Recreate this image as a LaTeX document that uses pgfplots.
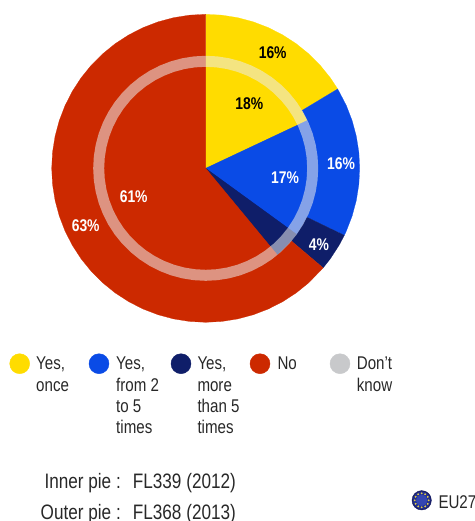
\documentclass[border=0pt]{standalone}
\usepackage{fontspec}
\setmainfont[FakeStretch=0.82]{Liberation Sans}
\usepackage{pgfplots}
\pgfplotsset{compat=1.18}
\usepgfplotslibrary{polar}
\usetikzlibrary{plotmarks}

\definecolor{eyellow}{RGB}{255,220,0}
\definecolor{eblue}{RGB}{10,75,230}
\definecolor{enavy}{RGB}{15,30,105}
\definecolor{ered}{RGB}{204,41,0}
\definecolor{egrey}{RGB}{200,201,203}
\definecolor{etext}{RGB}{40,40,40}
\definecolor{ering}{RGB}{235,235,235}

\tikzset{
	pct/.style={font=\fontsize{17}{18}\selectfont\bfseries, anchor=center},
	leg/.style={font=\fontsize{18.5}{21.3}\selectfont, anchor=north west, text=etext,
		align=left, inner sep=0pt},
	foot/.style={font=\fontsize{21}{24}\selectfont, anchor=base, inner sep=0pt, text=etext},
}

\begin{document}
\begin{tikzpicture}
\clip (0,0) rectangle (475bp,521bp);

% pies: angle (deg), radius in px. outer = 16/16/4/63, inner = 18/17/4/61
\begin{polaraxis}[
	at={(205.7bp,352.7bp)}, anchor=center,
	scale only axis, width=308bp, height=308bp,
	hide axis, clip=false,
	xmin=0, xmax=360, ymin=0, ymax=154,
	]
% outer
\addplot[fill=eyellow, draw=eyellow, line width=0.2pt] coordinates {
	(0,0) (90,154) (84,154) (78,154) (72,154) (66,154) (60,154) (54,154) (48,154) (42,154) (36,154) (31,154)
} --cycle;
\addplot[fill=eblue, draw=eblue, line width=0.2pt] coordinates {
	(0,0) (31,154) (24,154) (18,154) (12,154) (6,154) (0,154) (-6,154) (-12,154) (-18,154) (-24,154) (-25.8,154)
} --cycle;
\addplot[fill=enavy, draw=enavy, line width=0.2pt] coordinates {
	(0,0) (-25.8,154) (-30,154) (-36,154) (-40.3,154)
} --cycle;
\addplot[fill=ered, draw=ered, line width=0.2pt] coordinates {
	(0,0) (-40.3,154) (-48,154) (-54,154) (-60,154) (-66,154) (-72,154) (-78,154) (-84,154) (-90,154)
	(-96,154) (-102,154) (-108,154) (-114,154) (-120,154) (-126,154) (-132,154) (-138,154) (-144,154)
	(-150,154) (-156,154) (-162,154) (-168,154) (-174,154) (-180,154) (-186,154) (-192,154) (-198,154)
	(-204,154) (-210,154) (-216,154) (-222,154) (-228,154) (-234,154) (-240,154) (-246,154) (-252,154)
	(-258,154) (-264,154) (-270,154)
} --cycle;
% inner
\addplot[fill=eyellow, draw=eyellow, line width=0.2pt] coordinates {
	(0,0) (90,112) (84,112) (78,112) (72,112) (66,112) (60,112) (54,112) (48,112) (42,112) (36,112) (30,112) (25.2,112)
} --cycle;
\addplot[fill=eblue, draw=eblue, line width=0.2pt] coordinates {
	(0,0) (25.2,112) (18,112) (12,112) (6,112) (0,112) (-6,112) (-12,112) (-18,112) (-24,112) (-30,112) (-36,112)
} --cycle;
\addplot[fill=enavy, draw=enavy, line width=0.2pt] coordinates {
	(0,0) (-36,112) (-42,112) (-48,112) (-50.4,112)
} --cycle;
\addplot[fill=ered, draw=ered, line width=0.2pt] coordinates {
	(0,0) (-50.4,112) (-54,112) (-60,112) (-66,112) (-72,112) (-78,112) (-84,112) (-90,112)
	(-96,112) (-102,112) (-108,112) (-114,112) (-120,112) (-126,112) (-132,112) (-138,112) (-144,112)
	(-150,112) (-156,112) (-162,112) (-168,112) (-174,112) (-180,112) (-186,112) (-192,112) (-198,112)
	(-204,112) (-210,112) (-216,112) (-222,112) (-228,112) (-234,112) (-240,112) (-246,112) (-252,112)
	(-258,112) (-264,112) (-270,112)
} --cycle;
% pale ring between the two pies
\addplot[draw=ering, draw opacity=0.55, line width=11bp] coordinates {
	(90,107) (84,107) (78,107) (72,107) (66,107) (60,107) (54,107) (48,107) (42,107)
	(36,107) (30,107) (24,107) (18,107) (12,107) (6,107) (0,107) (-6,107) (-12,107)
	(-18,107) (-24,107) (-30,107) (-36,107) (-42,107) (-48,107) (-54,107) (-60,107)
	(-66,107) (-72,107) (-78,107) (-84,107) (-90,107) (-96,107) (-102,107) (-108,107)
	(-114,107) (-120,107) (-126,107) (-132,107) (-138,107) (-144,107) (-150,107) (-156,107)
	(-162,107) (-168,107) (-174,107) (-180,107) (-186,107) (-192,107) (-198,107) (-204,107)
	(-210,107) (-216,107) (-222,107) (-228,107) (-234,107) (-240,107) (-246,107) (-252,107)
	(-258,107) (-264,107)
} --cycle;
\end{polaraxis}

% overlay in image pixels: percent labels, legend, footer
\begin{axis}[
	at={(0,0)}, anchor=south west,
	scale only axis, width=475bp, height=521bp,
	hide axis, clip=false,
	xmin=0, xmax=475, ymin=0, ymax=521, y dir=reverse,
	]
\node[pct, text=black] at (axis cs:272.7,52.7) {16\%};
\node[pct, text=black] at (axis cs:249.3,103.7) {18\%};
\node[pct, text=white] at (axis cs:341,163.7) {16\%};
\node[pct, text=white] at (axis cs:285,177.3) {17\%};
\node[pct, text=white] at (axis cs:319,244.3) {4\%};
\node[pct, text=white] at (axis cs:133.7,196.7) {61\%};
\node[pct, text=white] at (axis cs:85.7,225.7) {63\%};

% legend dots
\addplot[only marks, color=eyellow, mark=*, mark size=10bp] coordinates {(19.7,363.7)};
\addplot[only marks, color=eblue, mark=*, mark size=10bp] coordinates {(99,363.7)};
\addplot[only marks, color=enavy, mark=*, mark size=10bp] coordinates {(181,363.7)};
\addplot[only marks, color=ered, mark=*, mark size=10bp] coordinates {(260,363.7)};
\addplot[only marks, color=egrey, mark=*, mark size=10bp] coordinates {(340,363.7)};

\node[leg] at (axis cs:36,357) {Yes,\\once};
\node[leg] at (axis cs:116,357) {Yes,\\from 2\\to 5\\times};
\node[leg] at (axis cs:197.3,357) {Yes,\\more\\than 5\\times};
\node[leg] at (axis cs:277.3,357) {No};
\node[leg] at (axis cs:356.7,357) {Don't\\know};

\node[foot, anchor=base east] at (axis cs:121,488) {Inner pie :};
\node[foot, anchor=base west] at (axis cs:132.7,488) {FL339 (2012)};
\node[foot, anchor=base east] at (axis cs:121,519.5) {Outer pie :};
\node[foot, anchor=base west] at (axis cs:132.7,519.5) {FL368 (2013)};

% EU flag: dark edge, lighter middle, ring of stars
\addplot[only marks, color={rgb,255:red,22;green,28;blue,100}, mark=*, mark size=9.7bp] coordinates {(421.7,500.3)};
\addplot[only marks, color={rgb,255:red,35;green,48;blue,145}, mark=*, mark size=8.5bp] coordinates {(421.7,500.3)};
\addplot[only marks, color={rgb,255:red,52;green,70;blue,178}, mark=*, mark size=5.5bp] coordinates {(421.7,500.3)};
\addplot[only marks, color={rgb,255:red,225;green,205;blue,70}, mark=*, mark size=0.7bp] coordinates {
	(428.7,500.3) (427.76,503.8) (425.2,506.36) (421.7,507.3) (418.2,506.36) (415.64,503.8)
	(414.7,500.3) (415.64,496.8) (418.2,494.24) (421.7,493.3) (425.2,494.24) (427.76,496.8)
};
\node[leg, anchor=base west] at (axis cs:438.3,508) {EU27};
\end{axis}
\end{tikzpicture}
\end{document}
